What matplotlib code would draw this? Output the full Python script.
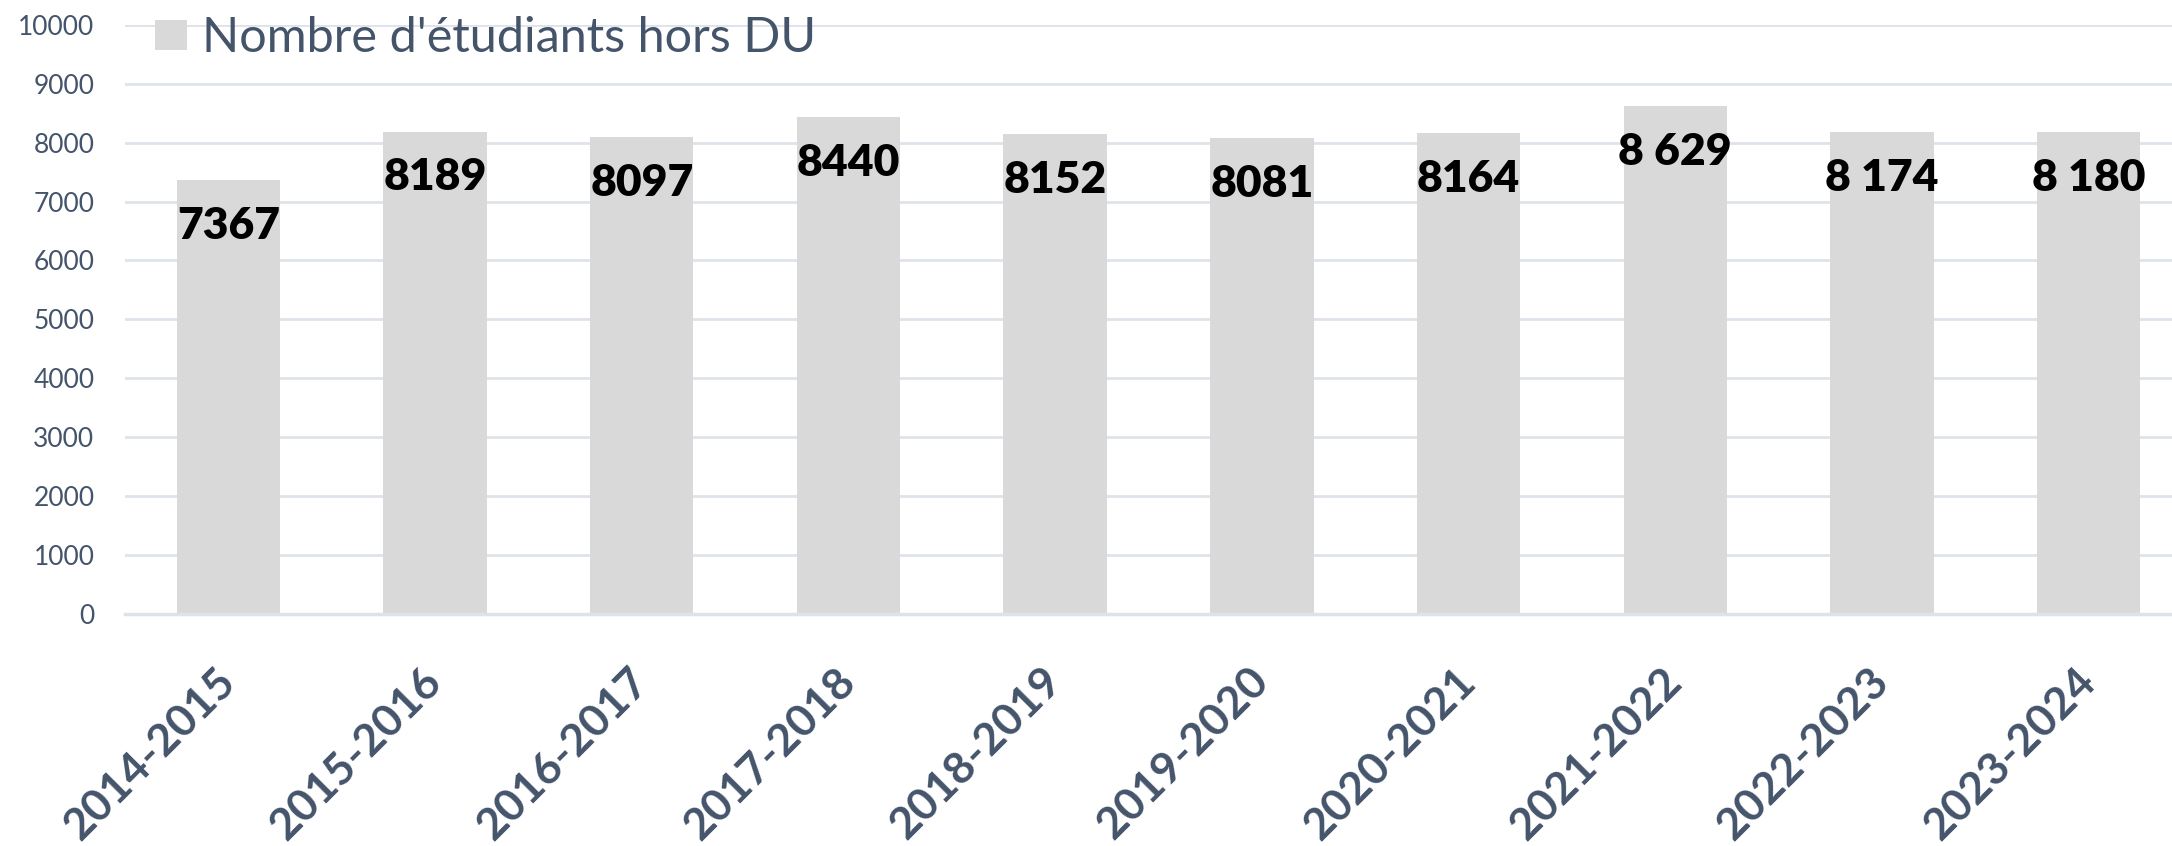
import numpy as np
import matplotlib
matplotlib.use("Agg")
import matplotlib.pyplot as plt

# donnees
annees = ['2014-2015', '2015-2016', '2016-2017', '2017-2018', '2018-2019',
          '2019-2020', '2020-2021', '2021-2022', '2022-2023', '2023-2024']
etudiants = [7367, 8189, 8097, 8440, 8152, 8081, 8164, 8629, 8174, 8180]
etiquettes = ['7367', '8189', '8097', '8440', '8152', '8081', '8164',
              '8 629', '8 174', '8 180']
yticks = [0, 1000, 2000, 3000, 4000, 5000, 6000, 7000, 8000, 9000, 10000]

gris_barre = '#D9D9D9'
bleu_texte = '#44546A'
gris_grille = '#DEE3EA'

plt.rcParams['font.family'] = ['Lato', 'DejaVu Sans']

W, H = 2172, 846
fig = plt.figure(figsize=(W / 100, H / 100), dpi=100)
# zone de trace en pixels : gauche 125, droite 2192 (coupe), haut 25, bas 613.6
ax = fig.add_axes([125 / W, (H - 613.6) / H, (2192 - 125) / W, (613.6 - 25) / H])

x = np.arange(len(annees))
ax.bar(x, etudiants, width=0.5, color=gris_barre, zorder=2,
       label="Nombre d'étudiants hors DU")

for i in range(len(x)):
    ax.annotate(etiquettes[i], (x[i], etudiants[i]), xytext=(0, -33),
                textcoords='offset points', ha='center', va='center',
                fontsize=32, fontweight='heavy', color='black', zorder=3)

ax.set_xlim(-0.5, len(annees) - 0.5)
ax.set_ylim(0, 10000)
ax.set_yticks(yticks)
ax.set_yticklabels([str(v) for v in yticks], fontsize=19, color=bleu_texte)
ax.grid(axis='y', color=gris_grille, linewidth=2, zorder=0)
ax.set_axisbelow(True)

ax.set_xticks(x)
ax.set_xticklabels(annees, rotation=45, ha='right', va='center',
                   rotation_mode='anchor', fontsize=32, fontweight='bold',
                   color=bleu_texte)
ax.tick_params(axis='x', length=0, pad=44)
ax.tick_params(axis='y', length=0, pad=22)

for s in ['top', 'right', 'left']:
    ax.spines[s].set_visible(False)
ax.spines['bottom'].set_color(gris_grille)
ax.spines['bottom'].set_linewidth(2.5)

leg = fig.legend(loc='center left', bbox_to_anchor=(155 / W, 1 - 38 / H),
                 frameon=False, fontsize=35, borderpad=0, borderaxespad=0,
                 handlelength=0.66, handleheight=0.56, handletextpad=0.3)
for t in leg.get_texts():
    t.set_color(bleu_texte)

fig.savefig('out.png', dpi=100)
